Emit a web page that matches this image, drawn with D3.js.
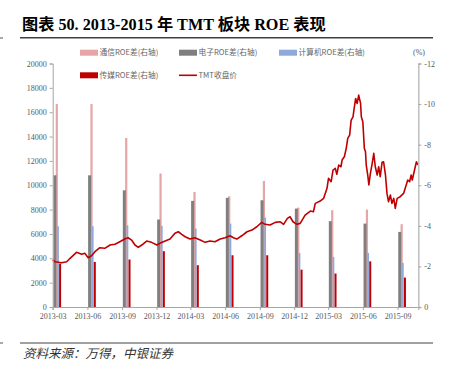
<!DOCTYPE html>
<html>
<head>
<meta charset="utf-8">
<script src="https://cdn.jsdelivr.net/npm/d3@7/dist/d3.min.js"></script>
<style>
  body { margin: 0; background: #fff; }
  svg { display: block; }
</style>
</head>
<body>
<div id="chart"></div>
<script>
// Quarterly ROE (right axis, %)
var quarters = ["2013-03","2013-06","2013-09","2013-12","2014-03","2014-06","2014-09","2014-12","2015-03","2015-06","2015-09"];
var roeTelecom   = [10.0, 10.0, 8.33, 6.58, 5.67, 5.46, 6.21, 4.90, 4.77, 4.80, 4.08];
var roeElectro   = [6.49, 6.49, 5.75, 4.31, 5.23, 5.38, 5.26, 4.85, 4.23, 4.11, 3.70];
var roeComputer  = [3.98, 3.98, 4.03, 4.00, 3.87, 4.11, 4.41, 2.66, 2.47, 2.66, 2.17];
var roeMedia     = [2.14, 2.22, 2.34, 2.75, 2.06, 2.55, 2.55, 1.84, 1.65, 2.25, 1.45];

// TMT close price (left axis)
var priceDates = [
  "2013-03-01","2013-03-07","2013-03-25","2013-04-07","2013-04-16","2013-05-03","2013-05-17","2013-05-25","2013-06-03","2013-06-12",
  "2013-06-21","2013-07-04","2013-07-17","2013-07-31","2013-08-13","2013-08-26","2013-09-08","2013-09-17","2013-09-26","2013-10-05",
  "2013-10-14","2013-10-23","2013-11-05","2013-11-18","2013-12-02","2013-12-10","2013-12-24","2014-01-06","2014-01-19","2014-01-28",
  "2014-02-06","2014-02-15","2014-02-28","2014-03-13","2014-03-27","2014-04-09","2014-04-22","2014-05-05","2014-05-19","2014-06-01",
  "2014-06-14","2014-06-23","2014-07-02","2014-07-15","2014-07-29","2014-08-11","2014-08-24","2014-09-06","2014-09-15","2014-09-28",
  "2014-10-12","2014-10-25","2014-11-03","2014-11-13","2014-11-20","2014-11-28","2014-12-08","2014-12-17","2014-12-30","2015-01-13",
  "2015-01-21","2015-01-26","2015-02-08","2015-02-17","2015-02-26","2015-03-02","2015-03-09","2015-03-14","2015-03-20","2015-03-24",
  "2015-03-29","2015-04-04","2015-04-07","2015-04-13","2015-04-18","2015-04-22","2015-04-27","2015-05-01","2015-05-06","2015-05-09",
  "2015-05-13","2015-05-17","2015-05-21","2015-05-26","2015-05-28","2015-06-01","2015-06-05","2015-06-08","2015-06-10","2015-06-14",
  "2015-06-17","2015-06-21","2015-06-25","2015-06-30","2015-07-04","2015-07-09","2015-07-13","2015-07-17","2015-07-22","2015-07-26",
  "2015-07-31","2015-08-04","2015-08-08","2015-08-13","2015-08-17","2015-08-22","2015-08-26","2015-08-31","2015-09-08","2015-09-17",
  "2015-09-24","2015-09-28","2015-10-03","2015-10-07","2015-10-10","2015-10-16","2015-10-21","2015-10-25"];
var priceValues = [
  3860, 3720, 3640, 3720, 4000, 4490, 4330, 4410, 4050, 4210,
  4540, 4870, 4820, 5090, 5150, 5360, 5580, 5690, 5500, 5090,
  4900, 5090, 5420, 5310, 5090, 5230, 5420, 5580, 6050, 6180,
  5970, 5770, 5580, 5690, 5500, 5310, 5420, 5360, 5580, 5690,
  5850, 5690, 5580, 5850, 6180, 6320, 6590, 6950, 6790, 6730,
  6950, 7000, 6790, 7280, 7410, 7000, 6790, 6870, 7550, 7880,
  7820, 8510, 8700, 8920, 9750, 10570, 10290, 11250, 11390, 10900,
  11660, 11520, 12070, 12340, 13030, 13850, 14120, 15350, 15620, 16310,
  17130, 16720, 17400, 16720, 15620, 15210, 13030, 12750, 11660, 10840,
  10020, 10980, 11660, 12620, 11520, 10840, 11520, 10700, 11880, 11930,
  10840, 9330, 8650, 9200, 8510, 8920, 8100, 8920, 9060, 9330,
  10020, 10430, 10290, 10840, 10430, 11250, 11930, 11660];

var leftTicks = [0, 2000, 4000, 6000, 8000, 10000, 12000, 14000, 16000, 18000, 20000];
var rightTicks = [0, 2, 4, 6, 8, 10, 12];

var width = 456, height = 369;
var plot = {left: 52.7, right: 418.3, top: 63.5, bottom: 307};

var parseDate = d3.timeParse("%Y-%m-%d");
var parseMonth = d3.timeParse("%Y-%m");

var svg = d3.select("#chart").append("svg")
  .attr("width", width)
  .attr("height", height);

// Scales
var xScale = d3.scaleTime()
  .domain([parseDate("2013-03-01"), parseDate("2015-10-26")])
  .range([plot.left, plot.right]);
var yLeft = d3.scaleLinear().domain([0, 20000]).range([plot.bottom, plot.top]);
var yRight = d3.scaleLinear().domain([0, 12]).range([plot.bottom, plot.top]);

var serif = "'Liberation Serif', 'Times New Roman', serif";
var cjk = "'Noto Sans CJK SC', sans-serif";

// Title
svg.append("text")
  .attr("x", 22).attr("y", 30)
  .style("font-family", serif + ", " + cjk)
  .style("font-weight", "bold")
  .style("font-size", "16.2px")
  .style("fill", "#000")
  .text("图表 50. 2013-2015 年 TMT 板块 ROE 表现");

svg.append("line")
  .attr("x1", 20).attr("x2", 433).attr("y1", 37.7).attr("y2", 37.7)
  .style("stroke", "#404040").style("stroke-width", 1.5);
svg.append("line")
  .attr("x1", 20).attr("x2", 433).attr("y1", 343).attr("y2", 343)
  .style("stroke", "#808080").style("stroke-width", 1.5);
// little crop marks on the left border
svg.append("line").attr("x1", 0).attr("x2", 3).attr("y1", 38).attr("y2", 38).style("stroke", "#555");
svg.append("line").attr("x1", 0).attr("x2", 3).attr("y1", 343).attr("y2", 343).style("stroke", "#555");

// Footer
svg.append("text")
  .attr("x", 23).attr("y", 358)
  .style("font-family", cjk)
  .style("font-style", "italic")
  .style("font-size", "12.5px")
  .style("fill", "#333")
  .text("资料来源：万得，中银证券");

// Bars: one group per quarter
var barSeries = [
  {name: "通信ROE差(右轴)", values: roeTelecom, color: "#E6A5A6", dx: 3.0, w: 2.2},
  {name: "电子ROE差(右轴)", values: roeElectro, color: "#7F7F7F", dx: 0.7, w: 3.0},
  {name: "计算机ROE差(右轴)", values: roeComputer, color: "#8EA9DB", dx: 4.5, w: 1.7},
  {name: "传媒ROE差(右轴)", values: roeMedia, color: "#C00000", dx: 6.4, w: 2.0}
];

barSeries.forEach(function(s){
  svg.append("g").selectAll("rect")
    .data(s.values)
    .enter()
    .append("rect")
    .attr("x", function(d, i){ return xScale(parseMonth(quarters[i])) + s.dx; })
    .attr("y", function(d){ return yRight(d); })
    .attr("width", s.w)
    .attr("height", function(d){ return yRight(0) - yRight(d); })
    .attr("fill", s.color);
});

// Price line
var priceData = priceDates.map(function(d, i){ return {date: parseDate(d), value: priceValues[i]}; });
var line = d3.line()
  .x(function(d){ return xScale(d.date); })
  .y(function(d){ return yLeft(d.value); });
svg.append("path")
  .datum(priceData)
  .attr("d", line)
  .style("fill", "none")
  .style("stroke", "#C00000")
  .style("stroke-width", 1.6)
  .style("stroke-linejoin", "round");

// Axes
var gLeft = svg.append("g")
  .attr("transform", "translate(" + plot.left + ",0)")
  .call(d3.axisLeft(yLeft).tickValues(leftTicks).tickSize(3).tickPadding(3).tickFormat(d3.format("d")));
var gRight = svg.append("g")
  .attr("transform", "translate(" + plot.right + ",0)")
  .call(d3.axisRight(yRight).tickValues(rightTicks).tickSize(3).tickPadding(3)
    .tickFormat(function(d){ return d === 0 ? "0" : "-" + d; }));
var gX = svg.append("g")
  .attr("transform", "translate(0," + plot.bottom + ")")
  .call(d3.axisBottom(xScale)
    .tickValues(quarters.map(function(q){ return parseMonth(q); }))
    .tickSize(3).tickPadding(3)
    .tickFormat(d3.timeFormat("%Y-%m")));

[gLeft, gRight, gX].forEach(function(g){
  g.selectAll("text")
    .style("font-family", serif)
    .style("font-size", "8px")
    .style("fill", "#595959");
  g.selectAll("line").style("stroke", "#A6A6A6");
  g.select(".domain").style("stroke", "#A6A6A6");
});
gRight.select(".domain").style("stroke", "#BFBFBF").style("stroke-width", 1.5);

// Unit label
svg.append("text")
  .attr("x", 413).attr("y", 55)
  .style("font-family", serif)
  .style("font-size", "8px")
  .style("fill", "#595959")
  .text("(%)");

// Legend
var legendItems = [
  {name: barSeries[0].name, color: barSeries[0].color, x: 80, y: 52.7, type: "rect"},
  {name: barSeries[1].name, color: barSeries[1].color, x: 179, y: 52.7, type: "rect"},
  {name: barSeries[2].name, color: barSeries[2].color, x: 279, y: 52.7, type: "rect"},
  {name: barSeries[3].name, color: barSeries[3].color, x: 80, y: 75.3, type: "rect"},
  {name: "TMT收盘价", color: "#C00000", x: 179, y: 75.3, type: "line"}
];
var legend = svg.append("g").attr("class", "legend");
legendItems.forEach(function(item){
  if(item.type == "rect"){
    legend.append("rect")
      .attr("x", item.x).attr("y", item.y - 3)
      .attr("width", 18).attr("height", 6)
      .attr("fill", item.color);
  }
  else{
    legend.append("line")
      .attr("x1", item.x).attr("x2", item.x + 18)
      .attr("y1", item.y).attr("y2", item.y)
      .style("stroke", item.color).style("stroke-width", 1.6);
  }
  legend.append("text")
    .attr("x", item.x + 19.5).attr("y", item.y + 2.7)
    .style("font-family", cjk)
    .style("font-size", "7.7px")
    .style("fill", "#666")
    .text(item.name);
});
</script>
</body>
</html>
